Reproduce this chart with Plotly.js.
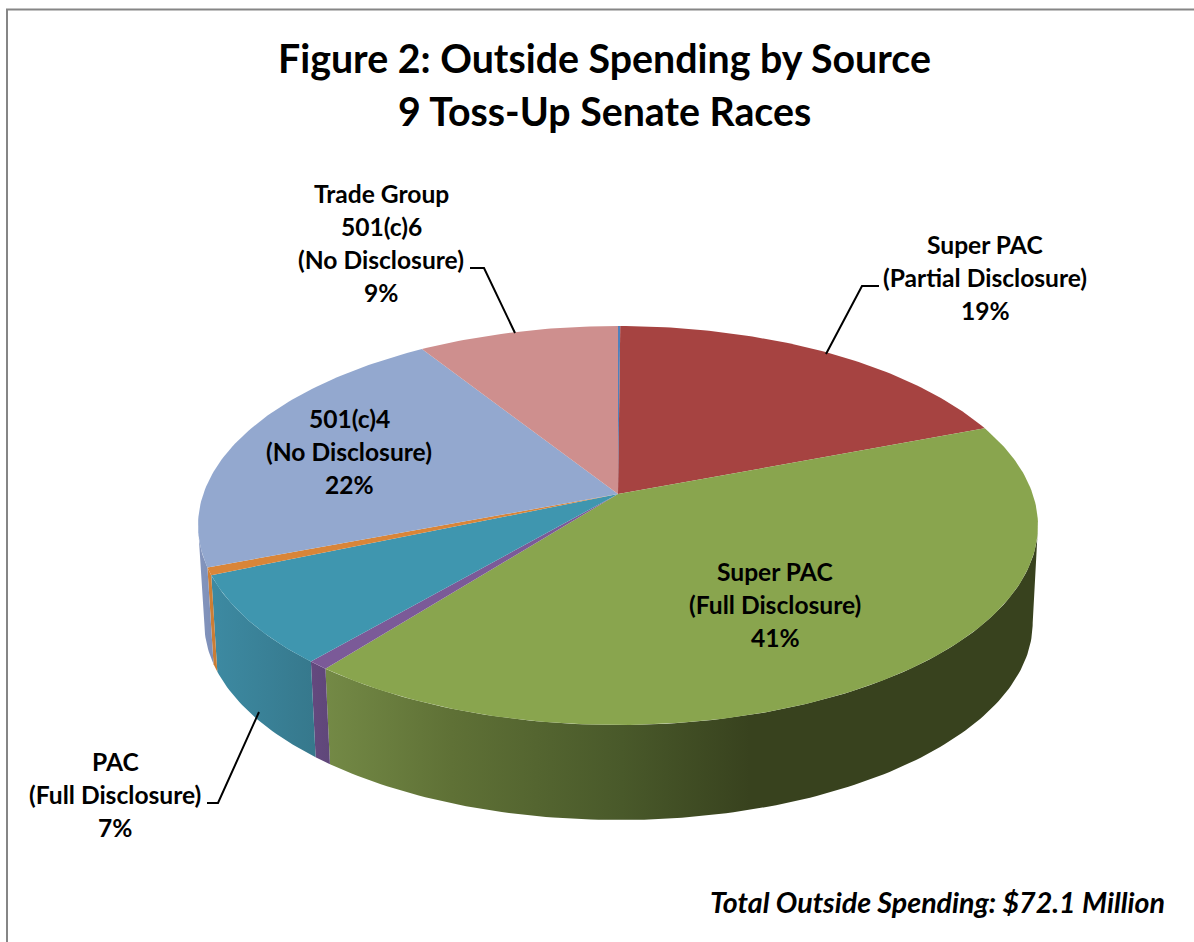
<!DOCTYPE html>
<html>
<head>
<meta charset="utf-8">
<script src="https://cdn.plot.ly/plotly-3.0.1.min.js"></script>
<style>html,body{margin:0;padding:0;background:#fff}#chart{width:1194px;height:942px}</style>
</head>
<body>
<div id="chart"></div>
<script>
// Slices, clockwise from twelve o'clock, as a share of outside spending (percent)
const sliceNames = ['Other', 'Super PAC (Partial Disclosure)', 'Super PAC (Full Disclosure)', 'Party-linked', 'PAC (Full Disclosure)', 'Other groups', '501(c)4 (No Disclosure)', 'Trade Group 501(c)6 (No Disclosure)'];
const sliceShares = [0.1, 19.1, 41.4, 0.7, 7.3, 0.6, 21.8, 9.0];
const topColors = ['#4f81bd', '#a64341', '#89a54e', '#7b5a98', '#3f96af', '#d98538', '#93a8cf', '#ce8f8e'];
const wallScales = [
  [[0, '#4f81bd'], [1, '#4f81bd']],
  [[0, '#a64341'], [1, '#a64341']],
  [[0, '#748a46'], [0.3, '#5f7136'], [0.7, '#49592a'], [1, '#38421e']],
  [[0, '#64497f'], [1, '#5f4779']],
  [[0, '#3d8aa2'], [1, '#36788c']],
  [[0, '#d08035'], [1, '#c87b33']],
  [[0, '#8495bd'], [1, '#7d8fb8']],
  [[0, '#ce8f8e'], [1, '#ce8f8e']]
];
const labelLines = [
  ['Super PAC', '(Partial Disclosure)', '19%'],
  ['Super PAC', '(Full Disclosure)', '41%'],
  ['PAC', '(Full Disclosure)', '7%'],
  ['501(c)4', '(No Disclosure)', '22%'],
  ['Trade Group', '501(c)6', '(No Disclosure)', '9%']
];
const titleLines = ['Figure 2: Outside Spending by Source', '9 Toss-Up Senate Races'];
const totalNote = 'Total Outside Spending: $72.1 Million';

// Perspective discs for the lid and the floor of the tilted cylinder
const lid = {cx: 618, cy: 494, rx: 414.7, ry: 194.5, k: 0.158};
const floorDisc = {cx: 618.5, cy: 591.5, rx: 409, ry: 192.4, k: 0.158};
function rim(disc, pct) {
  const a = pct / 100 * 2 * Math.PI;
  const u = Math.sin(a), v = -Math.cos(a), d = 1 - disc.k * v;
  return [disc.cx + disc.rx * u / d, disc.cy + disc.ry * v / d];
}
function arc(disc, from, to) {
  const n = Math.max(2, Math.ceil((to - from) * 4));
  const pts = [];
  for (let i = 0; i <= n; i++) pts.push(rim(disc, from + (to - from) * i / n));
  return pts;
}

// The wall only shows between the two points where the rim turns back on itself
const frontFrom = Math.acos(-lid.k) / (2 * Math.PI) * 100;
const frontTo = 100 - frontFrom;

const wallTraces = [], lidTraces = [];
let start = 0;
sliceShares.forEach((share, i) => {
  const end = start + share;
  const from = Math.max(start, frontFrom), to = Math.min(end, frontTo);
  if (to > from) {
    const ring = arc(lid, from, to).concat(arc(floorDisc, from, to).reverse());
    ring.push(ring[0]);
    const xs = ring.map(p => p[0]);
    wallTraces.push({
      type: 'scatter', mode: 'lines', x: xs, y: ring.map(p => p[1]),
      fill: 'toself', line: {width: 0}, hoverinfo: 'skip', showlegend: false,
      fillcolor: wallScales[i][0][1],
      fillgradient: {
        type: 'horizontal',
        start: i === 2 ? 323 : Math.min(...xs),
        stop: i === 2 ? 750 : Math.max(...xs),
        colorscale: wallScales[i]
      }
    });
  }
  const face = [[lid.cx, lid.cy]].concat(arc(lid, start, end));
  face.push([lid.cx, lid.cy]);
  lidTraces.push({
    type: 'scatter', mode: 'lines', x: face.map(p => p[0]), y: face.map(p => p[1]),
    fill: 'toself', fillcolor: topColors[i], line: {width: 0},
    name: sliceNames[i], hoverinfo: 'name', showlegend: false
  });
  start = end;
});

const traces = wallTraces.concat(lidTraces);

const labelFont = {family: 'Lato, sans-serif', size: 24.6, color: '#000'};
const labelSpots = [
  {x: 985, y: 244}, {x: 775, y: 571}, {x: 115, y: 761}, {x: 349, y: 418}, {x: 381, y: 193}
];
const annotations = [];
labelLines.forEach((lines, i) => {
  lines.forEach((text, j) => annotations.push({
    xref: 'x', yref: 'y', x: labelSpots[i].x, y: labelSpots[i].y + j * 33,
    text: '<b>' + text + '</b>', showarrow: false, font: labelFont,
    xanchor: 'center', yanchor: 'middle'
  }));
});
titleLines.forEach((text, j) => annotations.push({
  xref: 'x', yref: 'y', x: 604, y: 57 + j * 53, text: '<b>' + text + '</b>', showarrow: false,
  font: {family: 'Lato, sans-serif', size: 39.3, color: '#000'}, xanchor: 'center', yanchor: 'middle'
}));
annotations.push({
  xref: 'x', yref: 'y', x: 1167, y: 902, text: '<b><i>' + totalNote + '</i></b>', showarrow: false,
  font: {family: 'Lato, sans-serif', size: 28.6, color: '#000'}, xanchor: 'right', yanchor: 'middle'
});

const leader = d => ({type: 'path', xref: 'x', yref: 'y', path: d, line: {color: '#000', width: 2}, layer: 'above'});
const frame = d => ({type: 'path', xref: 'x', yref: 'y', path: d, line: {color: '#868686', width: 2}, layer: 'below'});
const layout = {
  width: 1194, height: 942,
  margin: {l: 0, r: 0, t: 0, b: 0},
  paper_bgcolor: '#fff', plot_bgcolor: '#fff',
  xaxis: {range: [0, 1194], visible: false, fixedrange: true},
  yaxis: {range: [942, 0], visible: false, fixedrange: true},
  showlegend: false, hovermode: 'closest',
  annotations,
  shapes: [
    frame('M7,942 L7,9.5 L1194,9.5'),
    leader('M470,268 L484,268 L515,333'),
    leader('M879,286 L862,286 L826,354'),
    leader('M207,803 L218,803 L259,712')
  ]
};
Plotly.newPlot('chart', traces, layout, {displayModeBar: false});
</script>
</body>
</html>
